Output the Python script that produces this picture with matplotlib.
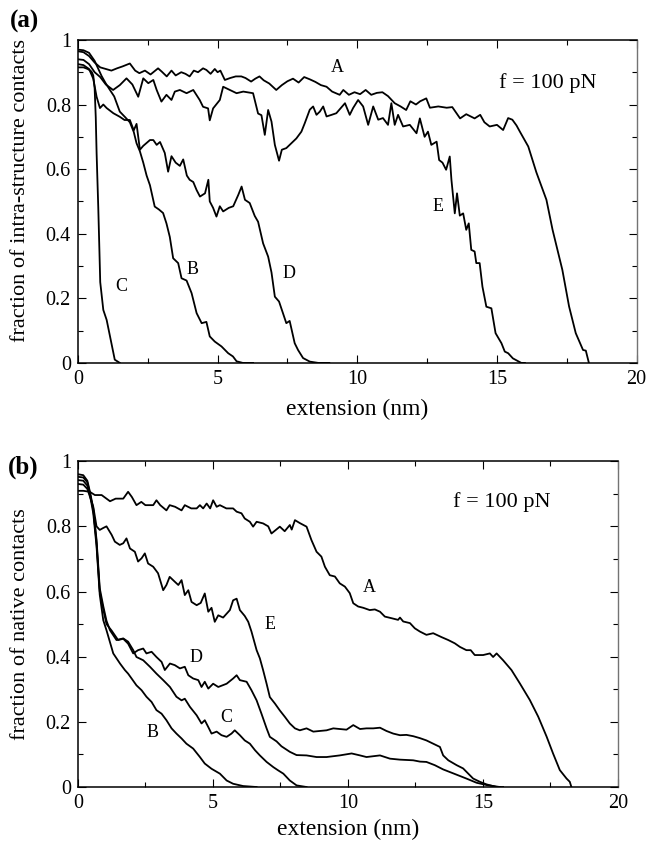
# -*- coding: utf-8 -*-

"""Fraction of contacts versus extension at f = 100 pN, panels (a) and (b)."""

import matplotlib
matplotlib.use('Agg')
import matplotlib.pyplot as plt
import matplotlib.ticker as ticker

plt.rcParams['font.family'] = ['Liberation Serif', 'DejaVu Serif']
plt.rcParams['mathtext.fontset'] = 'stix'

# ---- panel (a): fraction of intra-structure contacts ----
TOP_A_X = [0, 0.2, 0.4, 0.6, 0.8, 1.0, 1.2, 1.4, 1.6, 1.86,
           2.05, 2.2, 2.4, 2.6, 2.87, 3.0, 3.18, 3.35, 3.5, 3.7,
           3.85, 4.0, 4.15, 4.3, 4.48, 4.6, 4.75, 4.9, 5.0, 5.1,
           5.26, 5.45, 5.65, 5.85, 6.0, 6.2, 6.35, 6.5, 6.65, 6.85,
           7.1, 7.3, 7.5, 7.7, 7.9, 8.1, 8.3, 8.5, 8.7, 8.9,
           9.1, 9.37, 9.5, 9.7, 9.9, 10.1, 10.3, 10.5, 10.7, 10.9,
           11.1, 11.34, 11.55, 11.75, 11.9, 12.1, 12.25, 12.47, 12.6, 12.9,
           13.2, 13.4, 13.68, 13.9, 14.2, 14.4, 14.55, 14.74, 15.0, 15.22,
           15.4, 15.55, 15.7, 15.82, 16.12, 16.41, 16.77, 16.99, 17.34, 17.58,
           17.82, 18.08, 18.18, 18.29]
TOP_A_Y = [0.965, 0.962, 0.95, 0.93, 0.915, 0.91, 0.905, 0.912, 0.918, 0.927,
           0.905, 0.897, 0.905, 0.893, 0.912, 0.902, 0.887, 0.905, 0.89, 0.9,
           0.895, 0.887, 0.905, 0.9, 0.912, 0.907, 0.895, 0.91, 0.9, 0.905,
           0.876, 0.882, 0.887, 0.887, 0.882, 0.871, 0.88, 0.887, 0.875, 0.865,
           0.845, 0.86, 0.872, 0.88, 0.868, 0.885, 0.878, 0.87, 0.86, 0.855,
           0.84, 0.83, 0.845, 0.83, 0.838, 0.832, 0.845, 0.83, 0.836, 0.838,
           0.826, 0.804, 0.794, 0.783, 0.81, 0.8, 0.81, 0.819, 0.79, 0.794,
           0.79, 0.792, 0.757, 0.77, 0.757, 0.768, 0.745, 0.732, 0.737, 0.721,
           0.758, 0.753, 0.735, 0.716, 0.67, 0.59, 0.505, 0.412, 0.288, 0.175,
           0.092, 0.04, 0.038, 0.0]

TOP_E_X = [0, 0.2, 0.4, 0.6, 0.8, 1.0, 1.26, 1.5, 1.74, 1.95,
           2.16, 2.34, 2.52, 2.7, 2.82, 2.99, 3.17, 3.35, 3.47, 3.65,
           3.89, 4.13, 4.36, 4.48, 4.66, 4.72, 4.84, 5.08, 5.2, 5.44,
           5.68, 5.92, 6.27, 6.45, 6.57, 6.69, 6.81, 6.93, 7.05, 7.2,
           7.3, 7.46, 7.64, 7.82, 8.0, 8.12, 8.3, 8.42, 8.54, 8.66,
           8.78, 8.9, 9.08, 9.25, 9.56, 9.73, 9.85, 10.03, 10.21, 10.39,
           10.57, 10.75, 10.92, 11.1, 11.22, 11.34, 11.46, 11.64, 11.88, 12.12,
           12.24, 12.41, 12.53, 12.65, 12.84, 12.93, 13.05, 13.18, 13.31, 13.37,
           13.49, 13.57, 13.67, 13.79, 13.9, 13.99, 14.08, 14.2, 14.26, 14.38,
           14.48, 14.62, 14.8, 14.95, 15.16, 15.28, 15.4, 15.57, 15.87, 16.0]
TOP_E_Y = [0.94, 0.938, 0.925, 0.9, 0.885, 0.862, 0.845, 0.86, 0.881, 0.862,
           0.824, 0.881, 0.866, 0.876, 0.845, 0.809, 0.83, 0.814, 0.84, 0.845,
           0.835, 0.845, 0.814, 0.793, 0.788, 0.751, 0.788, 0.814, 0.855, 0.845,
           0.835, 0.84, 0.835, 0.772, 0.767, 0.706, 0.783, 0.747, 0.675, 0.626,
           0.66, 0.665, 0.68, 0.695, 0.716, 0.742, 0.784, 0.794, 0.768, 0.778,
           0.794, 0.763, 0.768, 0.773, 0.804, 0.768, 0.789, 0.814, 0.794, 0.737,
           0.794, 0.753, 0.758, 0.737, 0.804, 0.737, 0.768, 0.732, 0.737, 0.711,
           0.757, 0.7, 0.716, 0.675, 0.685, 0.628, 0.62, 0.598, 0.639, 0.567,
           0.463, 0.525, 0.456, 0.463, 0.412, 0.432, 0.35, 0.345, 0.309, 0.309,
           0.236, 0.174, 0.169, 0.092, 0.061, 0.035, 0.03, 0.014, 0.0, 0.0]

TOP_D_X = [0, 0.2, 0.4, 0.55, 0.67, 0.79, 0.91, 1.03, 1.27, 1.5,
           1.67, 1.86, 2.0, 2.1, 2.22, 2.34, 2.46, 2.58, 2.7, 2.82,
           2.94, 3.11, 3.23, 3.35, 3.5, 3.65, 3.77, 3.9, 4.0, 4.13,
           4.25, 4.37, 4.55, 4.67, 4.72, 4.84, 4.96, 5.08, 5.2, 5.4,
           5.56, 5.74, 5.86, 5.98, 6.15, 6.33, 6.45, 6.63, 6.81, 6.93,
           7.05, 7.2, 7.34, 7.46, 7.58, 7.76, 7.88, 8.06, 8.3, 8.6,
           9.0]
TOP_D_Y = [0.925, 0.922, 0.91, 0.88, 0.824, 0.789, 0.8, 0.789, 0.773, 0.762,
           0.752, 0.752, 0.72, 0.74, 0.66, 0.672, 0.681, 0.69, 0.69, 0.675,
           0.684, 0.65, 0.592, 0.64, 0.62, 0.61, 0.63, 0.58, 0.567, 0.56,
           0.535, 0.515, 0.525, 0.567, 0.5, 0.48, 0.453, 0.485, 0.469, 0.48,
           0.485, 0.52, 0.546, 0.505, 0.495, 0.455, 0.437, 0.37, 0.329, 0.28,
           0.205, 0.19, 0.154, 0.123, 0.13, 0.061, 0.04, 0.015, 0.004, 0.0,
           0.0]

TOP_B_X = [0, 0.2, 0.4, 0.6, 0.85, 1.0, 1.14, 1.3, 1.5, 1.7,
           1.86, 2.0, 2.1, 2.22, 2.34, 2.46, 2.58, 2.75, 2.9, 3.05,
           3.17, 3.29, 3.41, 3.59, 3.71, 3.89, 4.07, 4.25, 4.43, 4.6,
           4.72, 4.9, 5.14, 5.38, 5.55, 5.68, 5.9, 6.27]
TOP_B_Y = [0.97, 0.968, 0.96, 0.935, 0.888, 0.865, 0.846, 0.825, 0.778, 0.76,
           0.745, 0.715, 0.68, 0.655, 0.62, 0.58, 0.55, 0.484, 0.475, 0.464,
           0.432, 0.39, 0.324, 0.309, 0.262, 0.255, 0.216, 0.154, 0.123, 0.127,
           0.082, 0.066, 0.051, 0.03, 0.02, 0.005, 0.0, 0.0]

TOP_C_X = [0, 0.2, 0.35, 0.45, 0.5, 0.55, 0.6, 0.64, 0.67, 0.73,
           0.77, 0.8, 0.91, 1.03, 1.2, 1.32, 1.5]
TOP_C_Y = [0.915, 0.915, 0.91, 0.905, 0.9, 0.89, 0.85, 0.76, 0.65, 0.48,
           0.35, 0.25, 0.164, 0.133, 0.061, 0.01, 0.0]

# ---- panel (b): fraction of native contacts ----
BOT_A_X = [0, 0.2, 0.44, 0.63, 0.88, 1.19, 1.4, 1.68, 1.86, 2.0,
           2.17, 2.35, 2.5, 2.79, 2.91, 3.05, 3.28, 3.4, 3.6, 3.84,
           3.96, 4.2, 4.4, 4.52, 4.64, 4.77, 4.9, 5.01, 5.14, 5.26,
           5.5, 5.75, 5.88, 6.06, 6.18, 6.37, 6.49, 6.62, 6.86, 7.05,
           7.17, 7.48, 7.66, 7.85, 7.92, 8.04, 8.22, 8.47, 8.65, 8.84,
           9.02, 9.15, 9.33, 9.52, 9.7, 9.89, 10.07, 10.2, 10.38, 10.57,
           10.81, 11.0, 11.19, 11.37, 11.62, 11.86, 11.93, 12.05, 12.3, 12.48,
           12.67, 12.91, 13.16, 13.47, 13.72, 13.96, 14.15, 14.39, 14.55, 14.7,
           15.01, 15.26, 15.38, 15.51, 15.75, 16.06, 16.37, 16.74, 17.05, 17.36,
           17.6, 17.85, 18.1, 18.22, 18.28]
BOT_A_Y = [0.909, 0.909, 0.906, 0.896, 0.896, 0.877, 0.885, 0.885, 0.906, 0.89,
           0.865, 0.875, 0.865, 0.865, 0.88, 0.865, 0.849, 0.865, 0.86, 0.849,
           0.865, 0.855, 0.855, 0.865, 0.855, 0.87, 0.855, 0.88, 0.86, 0.865,
           0.855, 0.855, 0.845, 0.84, 0.824, 0.814, 0.799, 0.814, 0.809, 0.8,
           0.778, 0.799, 0.785, 0.804, 0.79, 0.819, 0.81, 0.799, 0.758, 0.722,
           0.707, 0.676, 0.65, 0.646, 0.625, 0.615, 0.595, 0.564, 0.554, 0.55,
           0.543, 0.545, 0.538, 0.523, 0.518, 0.513, 0.52, 0.508, 0.503, 0.487,
           0.477, 0.467, 0.472, 0.46, 0.451, 0.441, 0.43, 0.42, 0.42, 0.405,
           0.405, 0.41, 0.399, 0.41, 0.389, 0.359, 0.318, 0.267, 0.216, 0.155,
           0.103, 0.052, 0.026, 0.016, 0.0]

BOT_E_X = [0, 0.2, 0.35, 0.45, 0.57, 0.69, 0.81, 0.94, 1.06, 1.25,
           1.37, 1.55, 1.68, 1.8, 1.93, 2.11, 2.23, 2.36, 2.48, 2.6,
           2.79, 2.97, 3.16, 3.28, 3.4, 3.59, 3.72, 3.84, 3.96, 4.09,
           4.21, 4.4, 4.55, 4.7, 4.83, 4.95, 5.07, 5.2, 5.38, 5.63,
           5.75, 5.88, 6.0, 6.18, 6.31, 6.43, 6.62, 6.74, 6.86, 6.99,
           7.11, 7.3, 7.48, 7.67, 7.85, 8.04, 8.22, 8.47, 8.72, 8.96,
           9.21, 9.46, 9.7, 9.95, 10.2, 10.45, 10.69, 10.94, 11.19, 11.43,
           11.68, 11.93, 12.17, 12.42, 12.67, 12.91, 13.16, 13.41, 13.53, 13.72,
           14.03, 14.27, 14.46, 14.64, 14.89, 15.14, 15.51, 15.75]
BOT_E_Y = [0.93, 0.928, 0.915, 0.89, 0.86, 0.8, 0.789, 0.795, 0.8, 0.774,
           0.753, 0.743, 0.748, 0.763, 0.732, 0.722, 0.692, 0.702, 0.717, 0.686,
           0.676, 0.656, 0.604, 0.62, 0.645, 0.63, 0.62, 0.635, 0.589, 0.604,
           0.568, 0.558, 0.565, 0.594, 0.538, 0.55, 0.507, 0.527, 0.52, 0.543,
           0.573, 0.578, 0.543, 0.525, 0.507, 0.477, 0.42, 0.395, 0.359, 0.317,
           0.276, 0.256, 0.235, 0.215, 0.195, 0.18, 0.174, 0.18, 0.17, 0.172,
           0.174, 0.18, 0.178, 0.176, 0.19, 0.178, 0.18, 0.18, 0.182, 0.172,
           0.164, 0.159, 0.16, 0.156, 0.15, 0.143, 0.133, 0.123, 0.097, 0.082,
           0.067, 0.057, 0.041, 0.026, 0.016, 0.008, 0.0, 0.0]

BOT_D_X = [0, 0.2, 0.35, 0.45, 0.57, 0.69, 0.81, 0.94, 1.06, 1.25,
           1.49, 1.68, 1.86, 2.05, 2.23, 2.42, 2.54, 2.73, 2.91, 3.1,
           3.22, 3.41, 3.59, 3.78, 3.96, 4.09, 4.27, 4.46, 4.58, 4.7,
           4.83, 5.01, 5.2, 5.51, 5.75, 5.88, 6.0, 6.25, 6.43, 6.62,
           6.8, 6.99, 7.11, 7.36, 7.54, 7.85, 8.1, 8.47, 8.84, 9.21,
           9.7, 10.14, 10.45, 10.69, 11.19, 11.56, 11.93, 12.42, 12.67, 12.91,
           13.22, 13.53, 13.9, 14.39, 14.77, 15.14, 15.63]
BOT_D_Y = [0.96, 0.957, 0.94, 0.905, 0.855, 0.75, 0.6, 0.545, 0.5, 0.48,
           0.451, 0.455, 0.44, 0.41, 0.42, 0.425, 0.41, 0.415, 0.399, 0.384,
           0.359, 0.379, 0.374, 0.364, 0.369, 0.343, 0.333, 0.328, 0.307, 0.323,
           0.302, 0.317, 0.307, 0.317, 0.333, 0.343, 0.328, 0.323, 0.297, 0.266,
           0.225, 0.18, 0.154, 0.14, 0.125, 0.108, 0.098, 0.097, 0.092, 0.092,
           0.097, 0.103, 0.097, 0.092, 0.097, 0.087, 0.084, 0.082, 0.078, 0.077,
           0.067, 0.054, 0.042, 0.026, 0.013, 0.006, 0.0]

BOT_C_X = [0, 0.2, 0.35, 0.45, 0.57, 0.69, 0.81, 0.94, 1.06, 1.19,
           1.43, 1.68, 1.86, 2.05, 2.17, 2.42, 2.67, 2.91, 3.16, 3.41,
           3.65, 3.84, 3.96, 4.15, 4.4, 4.58, 4.7, 4.83, 4.95, 5.14,
           5.32, 5.51, 5.69, 5.81, 6.0, 6.18, 6.37, 6.56, 6.74, 6.99,
           7.24, 7.42, 7.61, 7.85, 8.1, 8.47]
BOT_C_Y = [0.952, 0.95, 0.935, 0.9, 0.85, 0.76, 0.61, 0.555, 0.51, 0.481,
           0.451, 0.456, 0.446, 0.42, 0.399, 0.389, 0.369, 0.348, 0.328, 0.307,
           0.277, 0.266, 0.271, 0.246, 0.22, 0.195, 0.205, 0.184, 0.164, 0.17,
           0.159, 0.154, 0.164, 0.174, 0.159, 0.143, 0.133, 0.113, 0.097, 0.077,
           0.061, 0.051, 0.041, 0.02, 0.005, 0.0]

BOT_B_X = [0, 0.2, 0.35, 0.45, 0.57, 0.69, 0.81, 0.94, 1.06, 1.31,
           1.56, 1.74, 1.86, 1.99, 2.17, 2.36, 2.54, 2.73, 2.91, 3.1,
           3.28, 3.47, 3.65, 3.84, 4.02, 4.27, 4.52, 4.7, 4.95, 5.26,
           5.51, 5.75, 6.12, 6.62]
BOT_B_Y = [0.942, 0.94, 0.925, 0.895, 0.84, 0.74, 0.59, 0.512, 0.481, 0.41,
           0.379, 0.359, 0.348, 0.333, 0.312, 0.297, 0.277, 0.261, 0.236, 0.225,
           0.205, 0.18, 0.164, 0.149, 0.133, 0.118, 0.092, 0.072, 0.056, 0.041,
           0.02, 0.01, 0.003, 0.0]

# curve labels: (text, x, y) in data units
TOP_LABELS = [('A', 9.3, 0.916), ('E', 12.9, 0.483), ('B', 4.11, 0.288),
              ('D', 7.55, 0.276), ('C', 1.54, 0.235)]
BOT_LABELS = [('A', 10.78, 0.613), ('E', 7.1, 0.5), ('D', 4.37, 0.396),
              ('C', 5.48, 0.212), ('B', 2.78, 0.166)]

X_TICKS = [0, 5, 10, 15, 20]
Y_TICKS = [0, 0.2, 0.4, 0.6, 0.8, 1.0]
Y_TICK_LABELS = ['0', '0.2', '0.4', '0.6', '0.8', '1']


def style_axes(ax, ylabel, xlabel_y, ylabel_x, ylabel_y):
    """Box with inward ticks on every side, like the original xmgrace plot."""
    ax.set_xlim(0, 20)
    ax.set_ylim(0, 1)
    ax.set_xticks(X_TICKS)
    ax.set_xticklabels([str(t) for t in X_TICKS])
    ax.set_yticks(Y_TICKS)
    ax.set_yticklabels(Y_TICK_LABELS)
    ax.xaxis.set_minor_locator(ticker.MultipleLocator(2.5))
    ax.yaxis.set_minor_locator(ticker.MultipleLocator(0.1))
    ax.tick_params(which='both', direction='in', top=True, right=True,
                   width=0.8, labelsize=14.5, pad=5)
    ax.tick_params(which='major', length=6)
    ax.tick_params(which='minor', length=3.5)
    for side in ('left', 'bottom', 'top'):
        ax.spines[side].set_linewidth(1.1)
    ax.spines['right'].set_linewidth(1.0)
    ax.spines['right'].set_color('0.45')
    ax.set_xlabel('extension (nm)', fontsize=17)
    ax.set_ylabel(ylabel, fontsize=16)
    ax.xaxis.set_label_coords(0.5, xlabel_y)
    ax.yaxis.set_label_coords(ylabel_x, ylabel_y)


fig = plt.figure(figsize=(6.49, 8.42), dpi=100)

ax_top = fig.add_axes([0.120, 0.569, 0.861, 0.3836])
for xs, ys in [(TOP_A_X, TOP_A_Y), (TOP_E_X, TOP_E_Y), (TOP_D_X, TOP_D_Y),
               (TOP_B_X, TOP_B_Y), (TOP_C_X, TOP_C_Y)]:
    ax_top.plot(xs, ys, color='black', lw=1.3)
for text, x, y in TOP_LABELS:
    ax_top.text(x, y, text, fontsize=13, ha='center', va='center')
ax_top.text(15.06, 0.867, 'f = 100 pN', fontsize=16, ha='left', va='center')
style_axes(ax_top, 'fraction of intra-structure contacts', -0.112, -0.086, 0.535)

ax_bot = fig.add_axes([0.120, 0.0653, 0.832, 0.387])
for xs, ys in [(BOT_A_X, BOT_A_Y), (BOT_E_X, BOT_E_Y), (BOT_D_X, BOT_D_Y),
               (BOT_C_X, BOT_C_Y), (BOT_B_X, BOT_B_Y)]:
    ax_bot.plot(xs, ys, color='black', lw=1.3)
for text, x, y in BOT_LABELS:
    ax_bot.text(x, y, text, fontsize=13, ha='center', va='center')
ax_bot.text(13.9, 0.874, 'f = 100 pN', fontsize=16, ha='left', va='center')
style_axes(ax_bot, 'fraction of native contacts', -0.098, -0.089, 0.5)

fig.text(0.0154, 0.9745, '(a)', fontsize=18, fontweight='bold', ha='left', va='center')
fig.text(0.0123, 0.4454, '(b)', fontsize=18, fontweight='bold', ha='left', va='center')

fig.savefig('out.png', dpi=100)
